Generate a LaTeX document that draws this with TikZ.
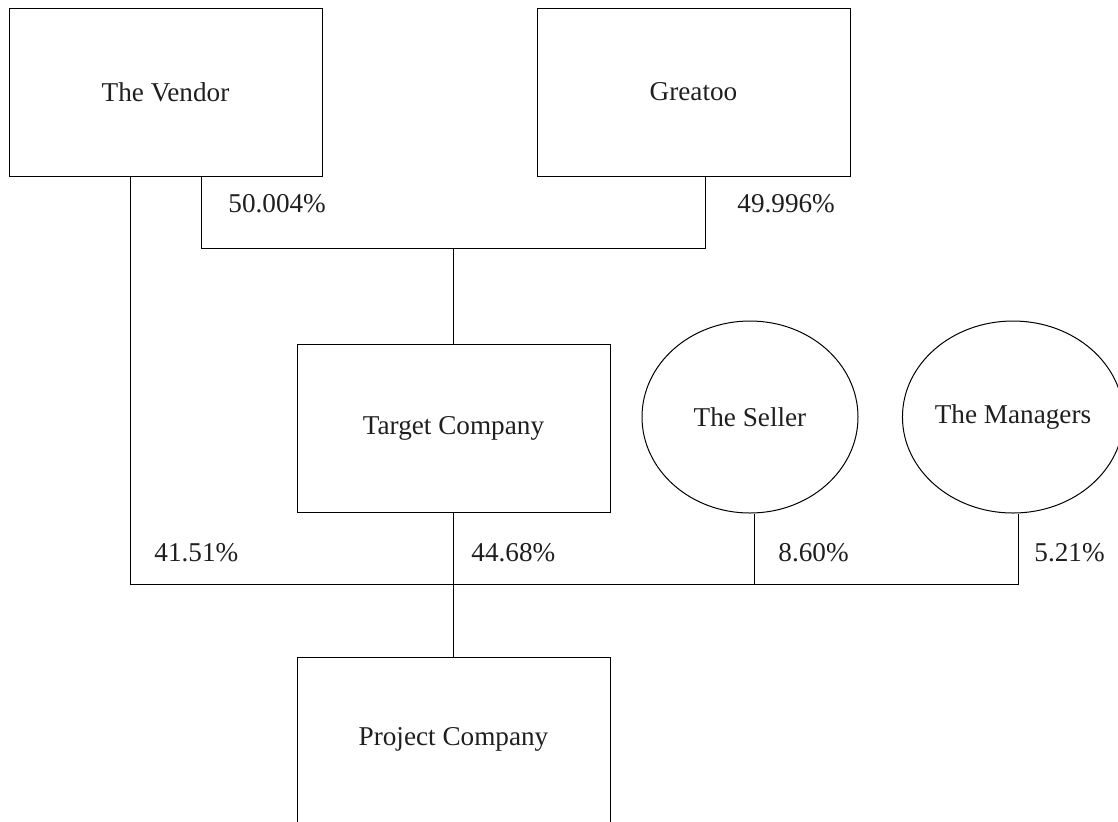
\documentclass[tikz,border=0pt]{standalone}
\usepackage{fontspec}
\setmainfont{Liberation Serif}
\usetikzlibrary{shapes.geometric}
\begin{document}
\begin{tikzpicture}[x=0.5pt,y=-0.5pt,
  every node/.style={font=\fontsize{13.6pt}{16pt}\selectfont, text=black!88},
  box/.style={draw, line width=0.5pt, rectangle, inner sep=0pt, minimum width=156.5pt, minimum height=84pt},
  oval/.style={draw, line width=0.5pt, ellipse, inner sep=0pt, minimum width=108pt, minimum height=96pt},
  conn/.style={draw, line width=0.5pt},
  pct/.style={anchor=base west, inner sep=0pt}]
\useasboundingbox (0,0) rectangle (1118,821);
\node[box] (vendor) at (165.5,92) {The Vendor};
\node[box] (greatoo) at (693.5,92) {Greatoo};
\node[box] (target) at (453.5,428) {Target Company};
\node[box, minimum height=82.5pt] (project) at (453.5,739.5) {Project Company};
\node[oval] (seller) at (750,417) {The Seller};
\node[oval] (managers) at (1013,417) {The Managers};
\coordinate (ja) at (201,248);
\coordinate (jb) at (705,248);
\coordinate (jc) at (453.5,248);
\coordinate (jl) at (130,584.5);
\coordinate (jm) at (453.5,584.5);
\coordinate (js) at (754,584.5);
\coordinate (jr) at (1018,584.5);
\draw[conn] (ja |- vendor.south) -- (ja) -- (jb) -- (jb |- greatoo.south);
\draw[conn] (jc) -- (target.north);
\draw[conn] (jl |- vendor.south) -- (jl) -- (jr) -- (jr |- managers.south);
\draw[conn] (target.south) -- (jm) -- (project.north);
\draw[conn] (js |- seller.south) -- (js);
\node[pct] (p1) at (228,212) {50.004\%};
\node[pct] (p2) at (737,212) {49.996\%};
\node[pct] (p3) at (154,561) {41.51\%};
\node[pct] (p4) at (471,561) {44.68\%};
\node[pct] (p5) at (778,561) {8.60\%};
\node[pct] (p6) at (1034,561) {5.21\%};
\end{tikzpicture}
\end{document}
